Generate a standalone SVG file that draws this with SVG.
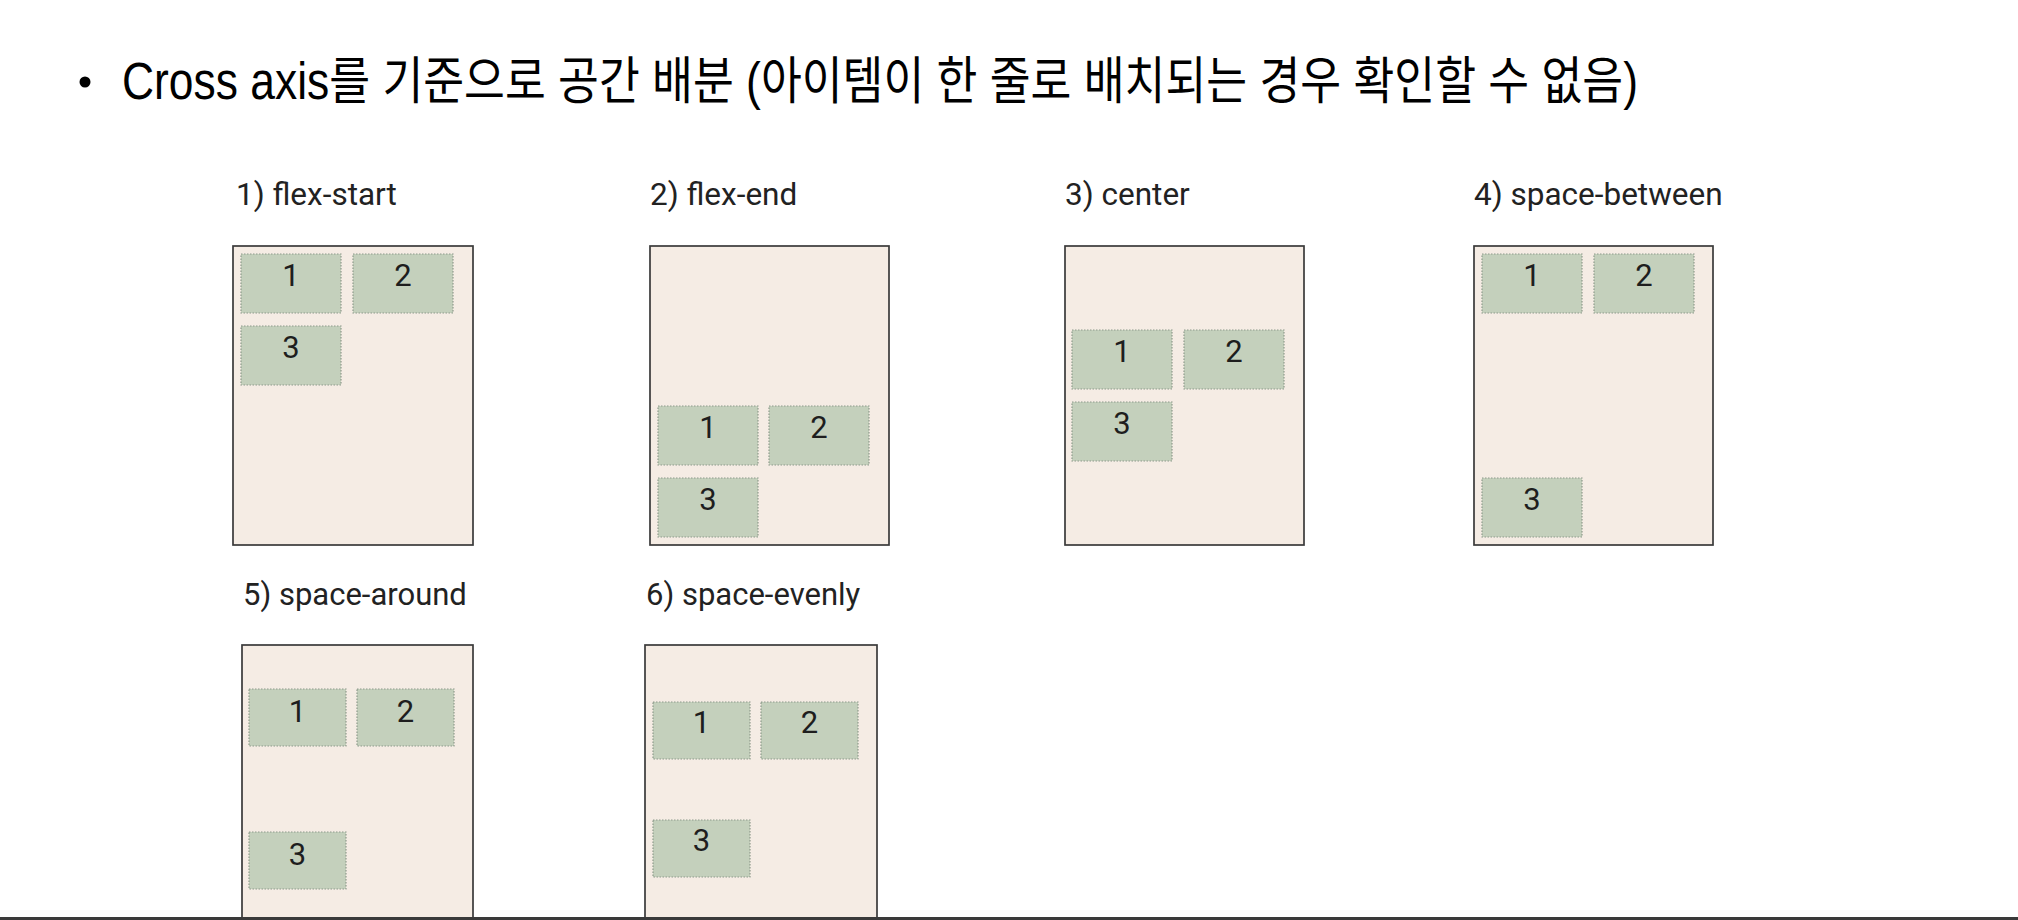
<svg xmlns="http://www.w3.org/2000/svg" width="2018" height="920" viewBox="0 0 2018 920">
<style>
.title{font-family:"Liberation Sans","Noto Sans CJK KR",sans-serif;font-size:51px;fill:#000}
.lbl{font-family:Roboto,"Liberation Sans",sans-serif;font-size:31.5px;fill:#222}
.lbl2{font-family:Roboto,"Liberation Sans",sans-serif;font-size:31px;fill:#222}
.box{fill:#f5ece4;stroke:#3a3a3a;stroke-width:1.7}
.item{fill:#c4d0bc;stroke:#8e9a8b;stroke-width:1.2;stroke-dasharray:1.5 1.5}
.num{font-family:Roboto,"Liberation Sans",sans-serif;font-size:31px;fill:#1e1e1e;text-anchor:middle}
</style>
<rect x="0" y="0" width="2018" height="920" fill="#ffffff"/>
<g id="title">
<circle cx="85" cy="82" r="5.5" fill="#000"/>
<text class="title" x="122" y="99" textLength="1516" lengthAdjust="spacingAndGlyphs">Cross axis를 기준으로 공간 배분 (아이템이 한 줄로 배치되는 경우 확인할 수 없음)</text>
</g>
<g id="panel-flex-start">
<text class="lbl" x="236" y="205">1) flex-start</text>
<rect class="box" x="233" y="246" width="240" height="299"/>
<rect class="item" x="241" y="254" width="100" height="59"/><text class="num" x="291" y="286">1</text>
<rect class="item" x="353" y="254" width="100" height="59"/><text class="num" x="403" y="286">2</text>
<rect class="item" x="241" y="326" width="100" height="59"/><text class="num" x="291" y="358">3</text>
</g>
<g id="panel-flex-end">
<text class="lbl" x="650" y="205">2) flex-end</text>
<rect class="box" x="650" y="246" width="239" height="299"/>
<rect class="item" x="658" y="406" width="100" height="59"/><text class="num" x="708" y="438">1</text>
<rect class="item" x="769" y="406" width="100" height="59"/><text class="num" x="819" y="438">2</text>
<rect class="item" x="658" y="478" width="100" height="59"/><text class="num" x="708" y="510">3</text>
</g>
<g id="panel-center">
<text class="lbl" x="1065" y="205">3) center</text>
<rect class="box" x="1065" y="246" width="239" height="299"/>
<rect class="item" x="1072" y="330" width="100" height="59"/><text class="num" x="1122" y="362">1</text>
<rect class="item" x="1184" y="330" width="100" height="59"/><text class="num" x="1234" y="362">2</text>
<rect class="item" x="1072" y="402" width="100" height="59"/><text class="num" x="1122" y="434">3</text>
</g>
<g id="panel-space-between">
<text class="lbl" x="1474" y="205">4) space-between</text>
<rect class="box" x="1474" y="246" width="239" height="299"/>
<rect class="item" x="1482" y="254" width="100" height="59"/><text class="num" x="1532" y="286">1</text>
<rect class="item" x="1594" y="254" width="100" height="59"/><text class="num" x="1644" y="286">2</text>
<rect class="item" x="1482" y="478" width="100" height="59"/><text class="num" x="1532" y="510">3</text>
</g>
<g id="panel-space-around">
<text class="lbl2" x="243" y="605">5) space-around</text>
<rect class="box" x="242" y="645" width="231" height="290"/>
<rect class="item" x="249" y="689" width="97" height="57"/><text class="num" x="297.5" y="722">1</text>
<rect class="item" x="357" y="689" width="97" height="57"/><text class="num" x="405.5" y="722">2</text>
<rect class="item" x="249" y="832" width="97" height="57"/><text class="num" x="297.5" y="865">3</text>
</g>
<g id="panel-space-evenly">
<text class="lbl2" x="646" y="605">6) space-evenly</text>
<rect class="box" x="645" y="645" width="232" height="290"/>
<rect class="item" x="653" y="702" width="97" height="57"/><text class="num" x="701.5" y="733">1</text>
<rect class="item" x="761" y="702" width="97" height="57"/><text class="num" x="809.5" y="733">2</text>
<rect class="item" x="653" y="820" width="97" height="57"/><text class="num" x="701.5" y="851">3</text>
</g>
<rect id="bottom-bar" x="0" y="917" width="2018" height="3" fill="#3a3a3a"/>
</svg>
